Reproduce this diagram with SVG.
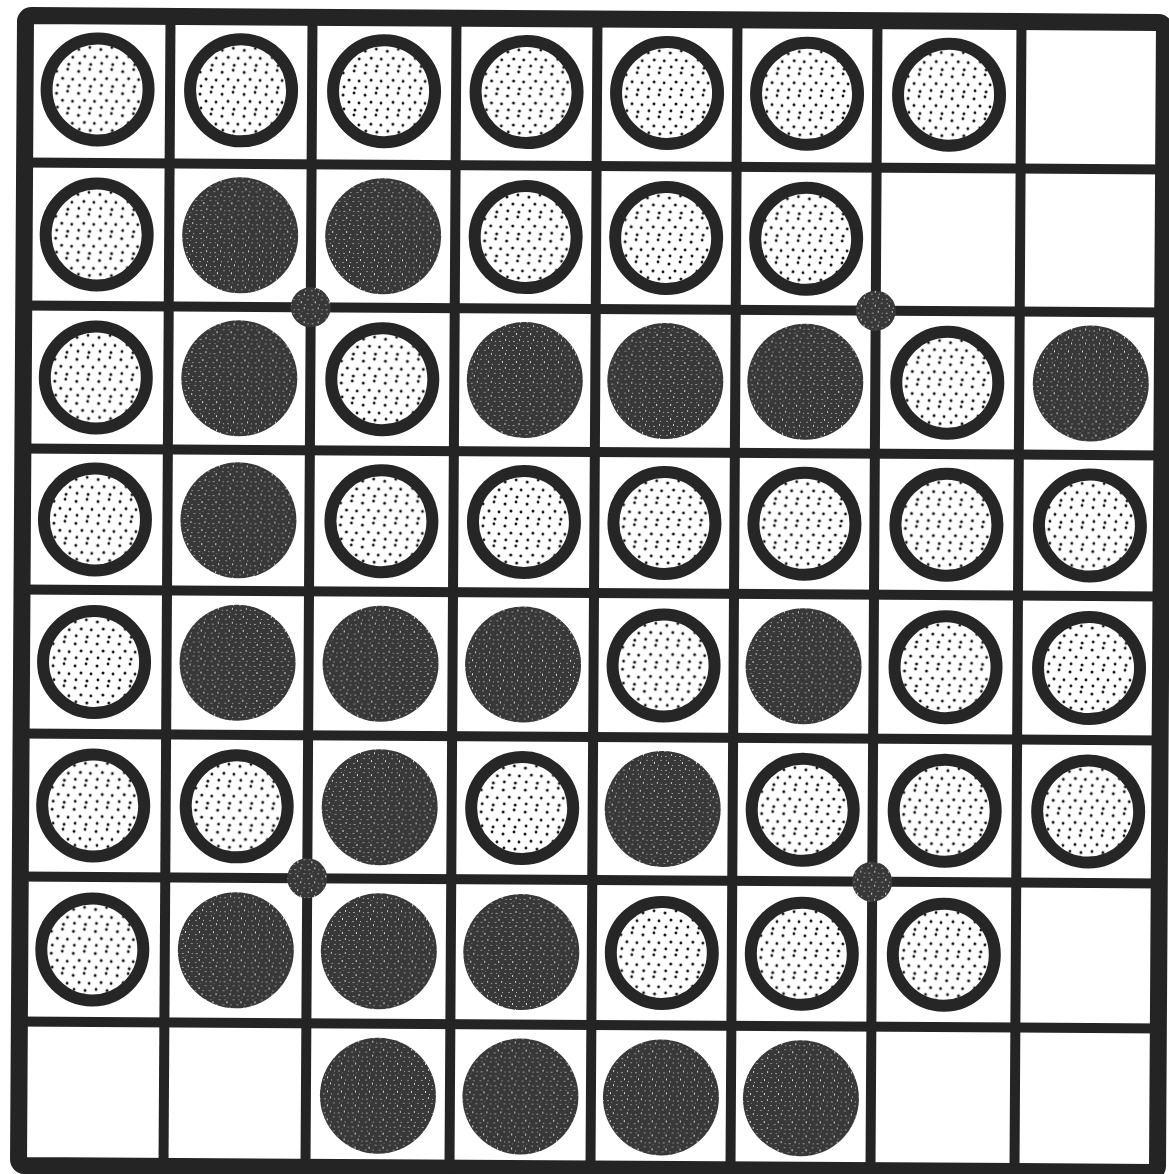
<svg xmlns="http://www.w3.org/2000/svg" width="1169" height="1174" viewBox="0 0 1169 1174">
<style>
.line{stroke:#242424;stroke-width:10;fill:none;stroke-linecap:square}
.border{stroke:#242424;stroke-width:17;fill:#ffffff}
.wp{fill:url(#stip);stroke:#262626;stroke-width:12}
.bp{fill:url(#dark)}
.star{fill:url(#dark)}
</style>
<defs>
<pattern id="stip" width="22" height="22" patternUnits="userSpaceOnUse">
<rect width="22" height="22" fill="#ffffff"/>
<circle cx="3" cy="4" r="1.5" fill="#111"/>
<circle cx="14" cy="2" r="1.4" fill="#111"/>
<circle cx="9" cy="11" r="1.5" fill="#111"/>
<circle cx="19" cy="12" r="1.4" fill="#111"/>
<circle cx="4" cy="18" r="1.4" fill="#111"/>
<circle cx="15" cy="19" r="1.5" fill="#111"/>
</pattern>
<pattern id="dark" width="14" height="14" patternUnits="userSpaceOnUse">
<rect width="14" height="14" fill="#383838"/>
<rect x="2" y="3" width="2" height="1" fill="#9a9a9a"/>
<rect x="8" y="1" width="1" height="2" fill="#c8c8c8"/>
<rect x="11" y="7" width="2" height="1" fill="#8a8a8a"/>
<rect x="5" y="9" width="1" height="2" fill="#dddddd"/>
<rect x="1" y="12" width="2" height="1" fill="#8a8a8a"/>
<rect x="9" y="12" width="1" height="1" fill="#bbbbbb"/>
<rect x="6" y="5" width="1" height="1" fill="#777"/>
<rect x="12" y="3" width="1" height="1" fill="#aaaaaa"/>
<rect x="3" y="7" width="1" height="1" fill="#999"/>
</pattern>
<circle id="W" r="51" class="wp"/>
<circle id="B" r="58" class="bp"/>
</defs>
<rect width="1169" height="1174" fill="#ffffff"/>
<g transform="rotate(0.35 594 593)">
<g id="board">
<rect class="border" x="22" y="19" width="1139" height="1150" rx="6"/>
</g>
<g id="connectors">
<line class="line" x1="167" y1="19" x2="167" y2="1169"/>
<line class="line" x1="309" y1="19" x2="309" y2="1169"/>
<line class="line" x1="453" y1="19" x2="453" y2="1169"/>
<line class="line" x1="594" y1="19" x2="594" y2="1169"/>
<line class="line" x1="734" y1="19" x2="734" y2="1169"/>
<line class="line" x1="874" y1="19" x2="874" y2="1169"/>
<line class="line" x1="1018" y1="19" x2="1018" y2="1169"/>
<line class="line" x1="22" y1="166" x2="1161" y2="166"/>
<line class="line" x1="22" y1="309" x2="1161" y2="309"/>
<line class="line" x1="22" y1="452" x2="1161" y2="452"/>
<line class="line" x1="22" y1="593" x2="1161" y2="593"/>
<line class="line" x1="22" y1="737" x2="1161" y2="737"/>
<line class="line" x1="22" y1="880" x2="1161" y2="880"/>
<line class="line" x1="22" y1="1025" x2="1161" y2="1025"/>
</g>
<g id="stars">
<circle class="star" cx="309" cy="309" r="20"/>
<circle class="star" cx="874" cy="309" r="20"/>
<circle class="star" cx="309" cy="880" r="20"/>
<circle class="star" cx="874" cy="880" r="20"/>
</g>
<g id="pieces">
<use id="p00" href="#W" x="94.5" y="92.5"/>
<use id="p01" href="#W" x="238" y="92.5"/>
<use id="p02" href="#W" x="381" y="92.5"/>
<use id="p03" href="#W" x="523.5" y="92.5"/>
<use id="p04" href="#W" x="664" y="92.5"/>
<use id="p05" href="#W" x="804" y="92.5"/>
<use id="p06" href="#W" x="946" y="92.5"/>
<use id="p10" href="#W" x="94.5" y="237.5"/>
<use id="p11" href="#B" x="238" y="237.5"/>
<use id="p12" href="#B" x="381" y="237.5"/>
<use id="p13" href="#W" x="523.5" y="237.5"/>
<use id="p14" href="#W" x="664" y="237.5"/>
<use id="p15" href="#W" x="804" y="237.5"/>
<use id="p20" href="#W" x="94.5" y="380.5"/>
<use id="p21" href="#B" x="238" y="380.5"/>
<use id="p22" href="#W" x="381" y="380.5"/>
<use id="p23" href="#B" x="523.5" y="380.5"/>
<use id="p24" href="#B" x="664" y="380.5"/>
<use id="p25" href="#B" x="804" y="380.5"/>
<use id="p26" href="#W" x="946" y="380.5"/>
<use id="p27" href="#B" x="1089.5" y="380.5"/>
<use id="p30" href="#W" x="94.5" y="522.5"/>
<use id="p31" href="#B" x="238" y="522.5"/>
<use id="p32" href="#W" x="381" y="522.5"/>
<use id="p33" href="#W" x="523.5" y="522.5"/>
<use id="p34" href="#W" x="664" y="522.5"/>
<use id="p35" href="#W" x="804" y="522.5"/>
<use id="p36" href="#W" x="946" y="522.5"/>
<use id="p37" href="#W" x="1089.5" y="522.5"/>
<use id="p40" href="#W" x="94.5" y="665"/>
<use id="p41" href="#B" x="238" y="665"/>
<use id="p42" href="#B" x="381" y="665"/>
<use id="p43" href="#B" x="523.5" y="665"/>
<use id="p44" href="#W" x="664" y="665"/>
<use id="p45" href="#B" x="804" y="665"/>
<use id="p46" href="#W" x="946" y="665"/>
<use id="p47" href="#W" x="1089.5" y="665"/>
<use id="p50" href="#W" x="94.5" y="808.5"/>
<use id="p51" href="#W" x="238" y="808.5"/>
<use id="p52" href="#B" x="381" y="808.5"/>
<use id="p53" href="#W" x="523.5" y="808.5"/>
<use id="p54" href="#B" x="664" y="808.5"/>
<use id="p55" href="#W" x="804" y="808.5"/>
<use id="p56" href="#W" x="946" y="808.5"/>
<use id="p57" href="#W" x="1089.5" y="808.5"/>
<use id="p60" href="#W" x="94.5" y="952.5"/>
<use id="p61" href="#B" x="238" y="952.5"/>
<use id="p62" href="#B" x="381" y="952.5"/>
<use id="p63" href="#B" x="523.5" y="952.5"/>
<use id="p64" href="#W" x="664" y="952.5"/>
<use id="p65" href="#W" x="804" y="952.5"/>
<use id="p66" href="#W" x="946" y="952.5"/>
<use id="p72" href="#B" x="381" y="1097"/>
<use id="p73" href="#B" x="523.5" y="1097"/>
<use id="p74" href="#B" x="664" y="1097"/>
<use id="p75" href="#B" x="804" y="1097"/>
</g>
</g>
</svg>
